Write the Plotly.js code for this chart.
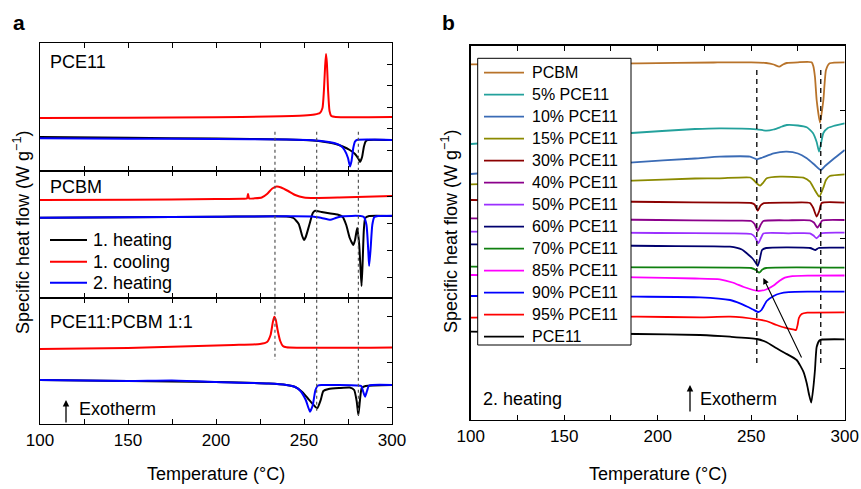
<!DOCTYPE html>
<html><head><meta charset="utf-8">
<script src="https://cdn.plot.ly/plotly-3.0.1.min.js"></script>
<style>html,body{margin:0;padding:0;background:#fff}#chart{width:861px;height:489px}</style>
</head><body><div id="chart"></div>
<script>
// ---------- Panel a : [temperature °C, heat flow (arb. units)] ----------
const aPce11Heat1 = [[100,34],[150,33.2],[200,32.5],[240,31.5],[255,30.5],[262,29],[268,27],[272,24.5],[276,21],[279,17],[281,12],[281.8,9],[283,14],[284,24],[285,29.5],[286,31],[300,31]];
const aPce11Cool1 = [[100,53],[150,53.2],[200,53.7],[230,54.5],[250,55.5],[256,56.5],[259,58],[260.5,63],[261.3,80],[262,105],[262.5,117],[263,108],[263.7,80],[264.5,60],[265.5,55],[268,54],[300,54]];
const aPce11Heat2 = [[100,32.7],[150,32.3],[200,32],[240,31.4],[255,30.7],[262,29.5],[268,27.5],[271,25],[273,21],[275,13],[276.1,4.5],[277,10],[278,23],[279,29.5],[280,31],[300,31]];

const aPcbmHeat1 = [[100,80.3],[200,81.2],[240,81.5],[244,80],[247,74],[249,62],[250,58],[251,61],[253,73],[255,85],[256.3,87.3],[260,86],[265,84.5],[269,83.5],[272,81],[274,73],[276,60],[278,53],[279,58],[280.2,70],[281.3,55],[282.1,30],[282.7,12],[283.3,35],[284,68],[284.8,80],[287,82],[300,82]];
const aPcbmCool1 = [[100,98],[150,98.3],[200,99],[215,99.3],[217.6,99.5],[218.2,104],[218.8,99.5],[222,99.7],[226,100.5],[229,104],[232,109.5],[234.5,111.5],[237,110.5],[241,107],[245,103],[250,100.5],[256,100],[270,100.5],[300,102]];
const aPcbmHeat2 = [[100,80.3],[200,81.2],[240,81.7],[255,81.5],[260,80],[265,78.2],[268,80],[272,81.8],[282,82],[284,81],[285.5,73],[286.5,48],[287,32],[287.8,48],[288.8,73],[290,81],[292,82],[300,82.3]];

const aBlendHeat1 = [[100,44],[200,42],[230,40.5],[240,39],[245,37],[249,32],[252,26],[255,20],[257.5,15.7],[259.5,24],[261,33],[264,35],[270,36],[276,36.5],[278.5,34],[280,22],[280.9,9],[281.8,24],[282.8,36],[285,38],[300,39]];
const aBlendCool1 = [[100,75],[150,76],[180,77.5],[210,79],[225,80],[229,82],[231,89],[232.3,102],[233.1,107.3],[234,104],[235,94],[236.5,83],[238,78],[240,76.7],[300,76.5]];
const aBlendHeat2 = [[100,44],[150,43],[175,43.5],[200,42],[230,40.5],[240,39],[245,37],[248,33],[251,24],[253.4,12.3],[255,19],[256.5,34],[258,38.5],[260,39],[280,38.5],[282.5,38],[283.7,32],[284.7,27.3],[285.8,33],[287,38.5],[300,39]];

const aLegendNames = ['1. heating','1. cooling','2. heating'];
const aPanelNames = ['PCE11','PCBM','PCE11:PCBM 1:1'];

// ---------- Panel b : 2. heating ----------
const bNames = ['PCBM','5% PCE11','10% PCE11','15% PCE11','30% PCE11','40% PCE11','50% PCE11','60% PCE11','70% PCE11','85% PCE11','90% PCE11','95% PCE11','PCE11'];
const bPcbm   = [[100,355.7],[150,356.2],[190,356.7],[230,357.5],[250,357.7],[258,357],[262,355.5],[265,353.3],[267,355.5],[269,357],[275,357.7],[282.3,357.7],[283.2,354],[284.1,343],[285,320],[286.8,297.3],[288.6,320],[290,350],[292,356.7],[300,357.7]];
const bP05    = [[100,276],[186,287],[220,291],[233,291.7],[253,290.7],[258.3,289.3],[262,290.5],[265.4,292.7],[269,295],[275,294.5],[279.7,292.7],[283,287],[285,278],[286.3,268.3],[287.5,278],[288.6,287],[291,292],[294,294],[300,296.7]];
const bP10    = [[100,246],[187,257.7],[220,261.5],[233.2,263.3],[249.4,263.3],[253,260.7],[256,262.5],[262,266.7],[269,268.3],[275,266.5],[279.7,261.7],[284,255],[287.2,250],[289.5,254],[292.2,258.3],[296,264],[300,270]];
const bP15    = [[100,235.7],[187,239.3],[220,241.5],[233.2,241.7],[249.4,242.5],[251.3,240],[253,236.5],[254.8,234.3],[256.5,237.5],[258.3,241.7],[265.4,243.3],[277.9,242.3],[281.4,238.3],[284,230],[286.4,223.3],[288.5,232],[290,240],[292,244],[300,245.7]];
const bP30    = [[100,220],[150,219],[200,218],[238.7,217.3],[250,217],[251.8,215.5],[253.5,209.3],[255,214.5],[256.5,216.7],[270,217.3],[281.4,217],[283.2,212],[285,203.3],[286.4,209],[287.7,217],[300,217.3]];
const bP40    = [[100,201.7],[150,201],[200,200],[238.7,199.3],[250,199],[251.8,196],[253.5,189],[255,195],[256.5,199],[270,199.7],[281.4,199.7],[283.5,197.5],[285.4,192.3],[286.8,196],[288,199.5],[300,200]];
const bP50    = [[100,188.3],[150,187.7],[200,187],[238.7,186.7],[250,186],[252,183],[253.8,176.7],[255.2,182],[256.5,186.5],[270,186.7],[281.4,186.7],[283.3,184.5],[284.9,181.7],[286.3,184],[287.5,186.7],[300,187.3]];
const bP60    = [[100,175.7],[150,175],[200,174],[238.7,173.3],[245,170.5],[247.6,166.7],[250.5,162],[252.3,157.5],[253.5,154],[254.5,160],[255.8,170],[258,172],[281.5,172],[284.4,170],[286,172],[300,172.3]];
const bP70    = [[100,153.3],[200,152.7],[240,152.3],[250,152],[252.5,150],[254.3,147.3],[256,150.5],[258,152],[300,152.3]];
const bP85    = [[100,145],[150,144],[188.8,142.7],[220,141.5],[233.2,140.7],[240,137.5],[246,133],[251,130],[254,129],[258,130.5],[262,134.5],[265,139],[268,142.3],[272,143.8],[280,144.3],[300,144.5]];
const bP90    = [[100,124],[150,123.7],[188.8,123.3],[222.6,122.7],[238.7,120],[244,116.7],[248,113.3],[251,110.5],[253.8,108],[255.5,110],[258.3,119],[262,124],[265.4,126.5],[270,127.8],[280,128.3],[300,128.3]];
const bP95    = [[100,102.3],[188.8,103.3],[222.6,102.7],[238.7,103.3],[253,100.7],[258,99],[263.6,95],[268,92.3],[273,90.3],[274,90],[274.8,95],[275.5,102],[277,106],[280,107.3],[300,107.7]];
const bPce11  = [[100,88.3],[188.8,86],[222.6,85],[238.7,83.3],[253,81],[258,78],[263.6,71.7],[268,67],[274.3,60],[277.9,48.3],[279.7,36.7],[281,25],[282.1,17.3],[283.2,32],[284.1,50],[285,73],[286.5,79.5],[288,80.5],[300,80.7]];
const bColors = ['#b8732a','#23a19c','#3a6bb5','#8b8a00','#8b0000','#8b008b','#9b30ff','#00006e','#108010','#ff00ff','#0000ff','#ff0000','#000000'];
const bSeries = [bPcbm,bP05,bP10,bP15,bP30,bP40,bP50,bP60,bP70,bP85,bP90,bP95,bPce11];

const xTicks = [100,125,150,175,200,225,250,275,300];
const xTickText = ['100','','150','','200','','250','','300'];

// ---------- helpers ----------
const W = 861, H = 489;
const PX = p => p / W, PY = p => 1 - p / H;
const FONT = 'Liberation Sans, Arial, Helvetica, sans-serif';
const aColors = ['#000000','#ff0000','#0000ff'];

function tr(data, color, xa, ya, width) {
  return {x: data.map(d => d[0]), y: data.map(d => d[1]), type: 'scatter', mode: 'lines',
    line: {color: color, width: width || 2, shape: 'spline', smoothing: 0.5},
    xaxis: xa, yaxis: ya, showlegend: false, hoverinfo: 'skip'};
}

const traces = [
  tr(aPce11Cool1, aColors[1], 'x', 'y'), tr(aPce11Heat1, aColors[0], 'x', 'y'), tr(aPce11Heat2, aColors[2], 'x', 'y'),
  tr(aPcbmCool1, aColors[1], 'x2', 'y2'), tr(aPcbmHeat1, aColors[0], 'x2', 'y2'), tr(aPcbmHeat2, aColors[2], 'x2', 'y2'),
  tr(aBlendCool1, aColors[1], 'x3', 'y3'), tr(aBlendHeat1, aColors[0], 'x3', 'y3'), tr(aBlendHeat2, aColors[2], 'x3', 'y3')
];
bSeries.forEach((s, i) => traces.push(tr(s, bColors[i], 'x4', 'y4', 1.8)));

function xax(domain, anchor, labels) {
  return {domain: domain, anchor: anchor, range: [100, 300], tickvals: xTicks, ticktext: xTickText,
    showticklabels: labels, ticks: 'inside', ticklen: 5, tickwidth: 1, tickcolor: '#000',
    mirror: 'ticks', showline: true, linecolor: '#000', linewidth: 1.3, showgrid: false, zeroline: false,
    tickfont: {family: FONT, size: 17, color: '#000'}, fixedrange: true};
}
function yax(domain, anchor, range, tv) {
  return {domain: domain, anchor: anchor, range: range, side: 'right', tickvals: tv, showticklabels: false,
    ticks: 'inside', ticklen: 5, tickwidth: 1, tickcolor: '#000', mirror: true, showline: true,
    linecolor: '#000', linewidth: 1.3, showgrid: false, zeroline: false, fixedrange: true};
}

const aX = [PX(40), PX(392)];
const bX = [PX(470.7), PX(844.7)];

const shapes = [];
// dotted guide lines (panel a)
[[233.5, 360], [257.2, 413], [280.9, 415]].forEach(([t, end]) => {
  shapes.push({type: 'line', xref: 'x', yref: 'paper', x0: t, x1: t, y0: PY(131.7), y1: PY(end),
    line: {color: '#555', width: 1.2, dash: 'dot'}});
});
// dashed guide lines (panel b)
[253, 287.2].forEach(t => {
  shapes.push({type: 'line', xref: 'x4', yref: 'paper', x0: t, x1: t, y0: PY(70), y1: PY(363),
    line: {color: '#000', width: 1.3, dash: '5px,4px'}});
});

const annotations = [];
function txt(text, x, y, size, opts) {
  annotations.push(Object.assign({text: text, xref: 'paper', yref: 'paper', x: PX(x), y: PY(y),
    xanchor: 'left', yanchor: 'middle', showarrow: false, font: {family: FONT, size: size, color: '#000'}}, opts || {}));
}
// panel a legend
aLegendNames.forEach((n, i) => {
  const y = [240, 261.7, 282.7][i];
  shapes.push({type: 'line', xref: 'paper', yref: 'paper', x0: PX(50), x1: PX(87), y0: PY(y), y1: PY(y),
    line: {color: aColors[i], width: 2}, layer: 'above'});
  txt(n, 91, y, 18);
});
// panel b legend box
shapes.push({type: 'rect', xref: 'paper', yref: 'paper', x0: PX(477.7), x1: PX(631), y0: PY(58.3), y1: PY(345),
  fillcolor: '#fff', line: {color: '#000', width: 1}, layer: 'above'});
bNames.forEach((n, i) => {
  const y = 72.7 + i * 22;
  shapes.push({type: 'line', xref: 'paper', yref: 'paper', x0: PX(484), x1: PX(524), y0: PY(y), y1: PY(y),
    line: {color: bColors[i], width: 1.8}, layer: 'above'});
  txt(n, 530, y, 16);
});

aPanelNames.forEach((n, i) => txt(n, 48, [62, 187, 322][i], 18));
txt('<b>a</b>', 11, 23, 21);
txt('<b>b</b>', 440, 23, 21);
txt('Exotherm', 77, 409, 18);
txt('2. heating', 481, 399, 18);
txt('Exotherm', 698, 399, 18);
txt('Temperature (°C)', 216, 474, 18, {xanchor: 'center'});
txt('Temperature (°C)', 658, 474, 18, {xanchor: 'center'});
txt('Specific heat flow (W g<sup>−1</sup>)', 21, 233, 18, {xanchor: 'center', textangle: -90});
txt('Specific heat flow (W g<sup>−1</sup>)', 449, 232, 18, {xanchor: 'center', textangle: -90});

// arrows
annotations.push({xref: 'paper', yref: 'paper', x: PX(66), y: PY(400), ax: 0, ay: 24, text: '', showarrow: true,
  arrowhead: 2, arrowsize: 1, arrowwidth: 1.3, arrowcolor: '#000'});
annotations.push({xref: 'paper', yref: 'paper', x: PX(690), y: PY(385), ax: 0, ay: 28, text: '', showarrow: true,
  arrowhead: 2, arrowsize: 1, arrowwidth: 1.3, arrowcolor: '#000'});
annotations.push({xref: 'x4', yref: 'y4', x: 256.5, y: 142, axref: 'x4', ayref: 'y4', ax: 277.3, ay: 61,
  text: '', showarrow: true, arrowhead: 2, arrowsize: 1.1, arrowwidth: 1.1, arrowcolor: '#000'});

const layout = {
  width: W, height: H, margin: {l: 0, r: 0, t: 0, b: 0}, paper_bgcolor: '#fff', plot_bgcolor: 'rgba(0,0,0,0)',
  showlegend: false, font: {family: FONT, color: '#000'},
  xaxis: xax(aX, 'y', false), yaxis: yax([PY(171), PY(43)], 'x', [0, 128], [21, 43, 64, 86, 107]),
  xaxis2: xax(aX, 'y2', false), yaxis2: yax([PY(298), PY(171)], 'x2', [0, 127], [21, 48, 75, 102]),
  xaxis3: xax(aX, 'y3', true), yaxis3: yax([PY(424), PY(298)], 'x3', [0, 126], [17, 62, 108]),
  xaxis4: xax(bX, 'y4', true), yaxis4: yax([PY(420), PY(45.7)], 'x4', [0, 374.3], [52, 182, 310]),
  shapes: shapes, annotations: annotations
};

Plotly.newPlot('chart', traces, layout, {displayModeBar: false, staticPlot: true});
</script></body></html>
